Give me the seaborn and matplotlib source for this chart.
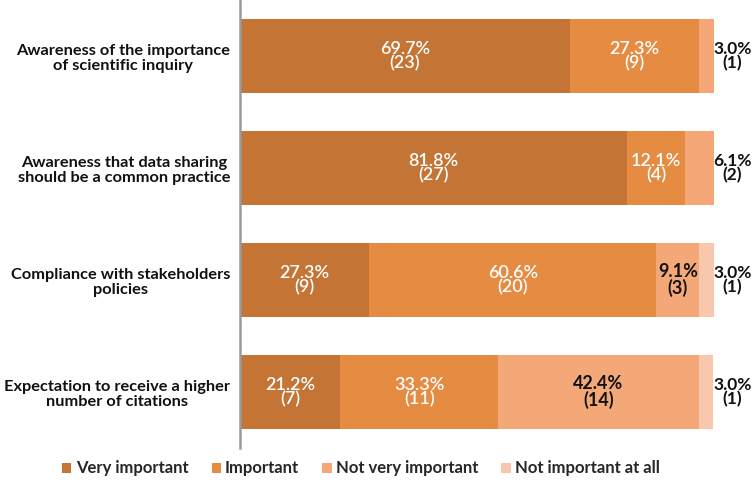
import matplotlib
matplotlib.use("Agg")
import matplotlib.pyplot as plt
import seaborn as sns
import pandas as pd
import numpy as np
from matplotlib.patches import Patch

categories = [
    "Awareness of the importance\nof scientific inquiry",
    "Awareness that data sharing\nshould be a common practice",
    "Compliance with stakeholders\npolicies",
    "Expectation to receive a higher\nnumber of citations",
]
series_names = ["Very important", "Important", "Not very important", "Not important at all"]
very_important = [69.7, 81.8, 27.3, 21.2]
important = [27.3, 12.1, 60.6, 33.3]
not_very_important = [3.0, 6.1, 9.1, 42.4]
not_important_at_all = [0.0, 0.0, 3.0, 3.0]
count_very = [23, 27, 9, 7]
count_imp = [9, 4, 20, 11]
count_notvery = [1, 2, 3, 14]
count_notall = [0, 0, 1, 1]

colors = ["#C47535", "#E68B42", "#F4A878", "#F8C8AE"]
text_colors = ["white", "white", "#111111", "#111111"]

sns.set_theme(style="white")
plt.rcParams["font.family"] = ["Lato", "DejaVu Sans"]

values = [very_important, important, not_very_important, not_important_at_all]
counts = [count_very, count_imp, count_notvery, count_notall]
cum = np.cumsum(np.array(values), axis=0)

fig = plt.figure(figsize=(7.52, 4.87), dpi=100)
ax = fig.add_axes([0.319, 0.080, 0.949 - 0.319, 0.92])

# draw from the outermost cumulative layer inward
for i in range(3, -1, -1):
    df = pd.DataFrame({"cat": categories, "val": cum[i]})
    sns.barplot(data=df, x="val", y="cat", orient="h", color=colors[i],
                width=0.66, saturation=1, ax=ax, linewidth=0)

ax.set_xlim(0, 100)
ax.set_ylim(3.5, -0.5)
ax.set_xlabel("")
ax.set_ylabel("")
ax.set_xticks([])
ax.tick_params(axis="y", length=0, pad=7)
ax.set_yticks(range(len(categories)))
ax.set_yticklabels(categories, fontsize=11.8, fontweight="bold", color="#111111",
                   multialignment="center", linespacing=1.15)
for s in ["top", "right", "bottom"]:
    ax.spines[s].set_visible(False)
ax.spines["left"].set_color("#9a9a9a")
ax.spines["left"].set_linewidth(1.8)

# labels
for r in range(len(categories)):
    left = 0.0
    for i in range(4):
        v = values[i][r]
        c = counts[i][r]
        if v <= 0:
            continue
        txt = f"{v:.1f}%\n({c})"
        outside = (i == 3) or (r < 2 and i == 2)
        if outside:
            ax.text(104.0, r, txt, ha="center", va="center", fontsize=12.5,
                    fontweight="bold", color="#111111", linespacing=0.9)
        else:
            ax.text(left + v / 2, r, txt, ha="center", va="center", fontsize=13,
                    fontweight="bold" if text_colors[i] != "white" else "semibold",
                    color=text_colors[i], linespacing=0.9)
        left += v

handles = [Patch(facecolor=colors[i], edgecolor="none", label=series_names[i]) for i in range(4)]
fig.legend(handles=handles, loc="center", bbox_to_anchor=(0.48, 0.038), ncol=4,
           frameon=False, handlelength=0.55, handleheight=0.55,
           handletextpad=0.25, columnspacing=1.4,
           prop={"weight": "bold", "size": 12})

fig.savefig("out.png", dpi=100)
